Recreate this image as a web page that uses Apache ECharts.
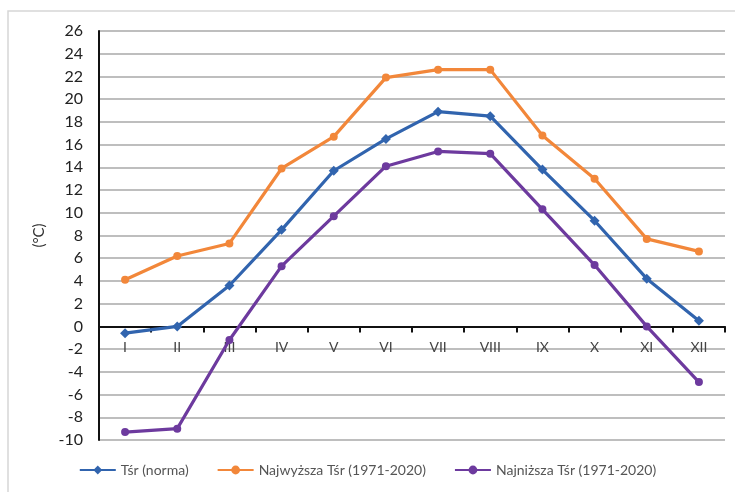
<!DOCTYPE html>
<html>
<head>
<meta charset="utf-8">
<script src="https://cdn.jsdelivr.net/npm/echarts@6/dist/echarts.min.js"></script>
<style>
html,body{margin:0;padding:0;background:#fff;}
#c{width:735px;height:492px;}
</style>
</head>
<body>
<div id="c"></div>
<script>
const categories = ['I','II','III','IV','V','VI','VII','VIII','IX','X','XI','XII'];
const tsrNorma = [-0.6, 0.0, 3.6, 8.5, 13.7, 16.5, 18.9, 18.5, 13.8, 9.3, 4.2, 0.5];
const najwyzsza = [4.1, 6.2, 7.3, 13.9, 16.7, 21.9, 22.6, 22.6, 16.8, 13.0, 7.7, 6.6];
const najnizsza = [-9.3, -9.0, -1.2, 5.3, 9.7, 14.1, 15.4, 15.2, 10.3, 5.4, 0.0, -4.9];
const seriesNames = ['Tśr (norma)', 'Najwyższa Tśr (1971-2020)', 'Najniższa Tśr (1971-2020)'];
const yMin = -10, yMax = 26, yStep = 2;

const gridTop = 31, gridHeight = 409;
// move the category axis up to the zero line (derived from the value scale)
const zeroOffset = -((0 - yMin) / (yMax - yMin)) * gridHeight;

const font = 'Lato, "Open Sans", sans-serif';
const chart = echarts.init(document.getElementById('c'));
function mk(name, data, color, symbol, size) {
  return {
    name: name, type: 'line', data: data,
    symbol: symbol, symbolSize: size,
    itemStyle: {color: color},
    lineStyle: {color: color, width: 3.2},
    emphasis: {disabled: true}
  };
}
chart.setOption({
  animation: false,
  backgroundColor: '#fff',
  graphic: [
    {type: 'rect', shape: {x: 8, y: 11, width: 740, height: 490},
     style: {fill: 'none', stroke: '#d6d6d6', lineWidth: 1.5}, silent: true}
  ],
  grid: {left: 99, top: gridTop, width: 626, height: gridHeight, containLabel: false},
  legend: {
    top: 458, left: 'center',
    itemWidth: 36, itemHeight: 11, itemGap: 28,
    textStyle: {fontFamily: font, fontSize: 14, color: '#555'},
    data: seriesNames
  },
  xAxis: {
    type: 'category', data: categories, boundaryGap: true,
    position: 'bottom', offset: zeroOffset,
    axisLine: {onZero: false, lineStyle: {color: '#111', width: 2}},
    axisTick: {show: true, length: 6, inside: false, lineStyle: {color: '#111', width: 2}},
    axisLabel: {margin: 14, fontFamily: font, fontSize: 14, color: '#444'},
    splitLine: {show: false}
  },
  yAxis: {
    type: 'value', min: yMin, max: yMax, interval: yStep,
    name: '(°C)', nameLocation: 'middle', nameRotate: 90, nameGap: 52,
    nameTextStyle: {fontFamily: font, fontSize: 15, color: '#333'},
    axisLine: {show: true, lineStyle: {color: '#111', width: 2}},
    axisTick: {show: false},
    axisLabel: {margin: 16, fontFamily: font, fontSize: 16, color: '#222'},
    splitLine: {show: true, lineStyle: {color: '#a8a8a8', width: 1.5}}
  },
  series: [
    mk(seriesNames[0], tsrNorma, '#3164ae', 'diamond', 10),
    mk(seriesNames[1], najwyzsza, '#f2873a', 'circle', 8),
    mk(seriesNames[2], najnizsza, '#6d3a9e', 'circle', 8)
  ]
});
</script>
</body>
</html>
